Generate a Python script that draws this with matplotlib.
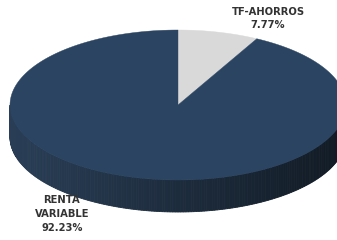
import numpy as np
import matplotlib.pyplot as plt
from matplotlib.patches import Polygon
from matplotlib.colors import to_rgb

# data
labels = ['TF-AHORROS', 'RENTA\nVARIABLE']
shares = [7.77, 92.23]
colors = ['#d9d9d9', '#2b4461']

# pie geometry in pixels
cx, cy, rx, ry, depth = 178, 105, 168, 75, 32

def pt(t):
    return cx + rx*np.cos(t), cy - ry*np.sin(t)

fig = plt.figure(figsize=(3.37, 2.4), dpi=100)
ax = fig.add_axes([0, 0, 1, 1])
ax.set_xlim(0, 337)
ax.set_ylim(240, 0)
ax.axis('off')

# side wall, shaded left to right
c_left = np.array(to_rgb('#293e56'))
c_right = np.array(to_rgb('#111a24'))
n = 200
ts = np.linspace(np.pi, 2*np.pi, n+1)
for i in range(n):
    x0, y0 = pt(ts[i])
    x1, y1 = pt(ts[i+1])
    f = ((x0 + x1)/2 - (cx - rx)) / (2*rx)
    col = c_left*(1-f) + c_right*f
    ax.add_patch(Polygon([(x0, y0), (x1, y1), (x1, y1+depth), (x0, y0+depth)],
                         closed=True, fc=col, ec=col, lw=0.6))

# top face
a0 = np.pi/2
for s, col in zip(shares, colors):
    a1 = a0 - 2*np.pi*s/100
    t = np.linspace(a0, a1, 200)
    xs, ys = pt(t)
    verts = [(cx, cy)] + list(zip(xs, ys))
    ax.add_patch(Polygon(verts, closed=True, fc=col, ec=col, lw=0.3))
    a0 = a1

kw = dict(ha='center', va='center', fontsize=7.2, fontweight='bold', color='#333333', linespacing=1.45)
ax.text(268, 18.5, labels[0] + '\n' + f'{shares[0]:.2f}%', **kw)
ax.text(62, 214, labels[1] + '\n' + f'{shares[1]:.2f}%', **kw)

fig.savefig('out.png', dpi=100)
